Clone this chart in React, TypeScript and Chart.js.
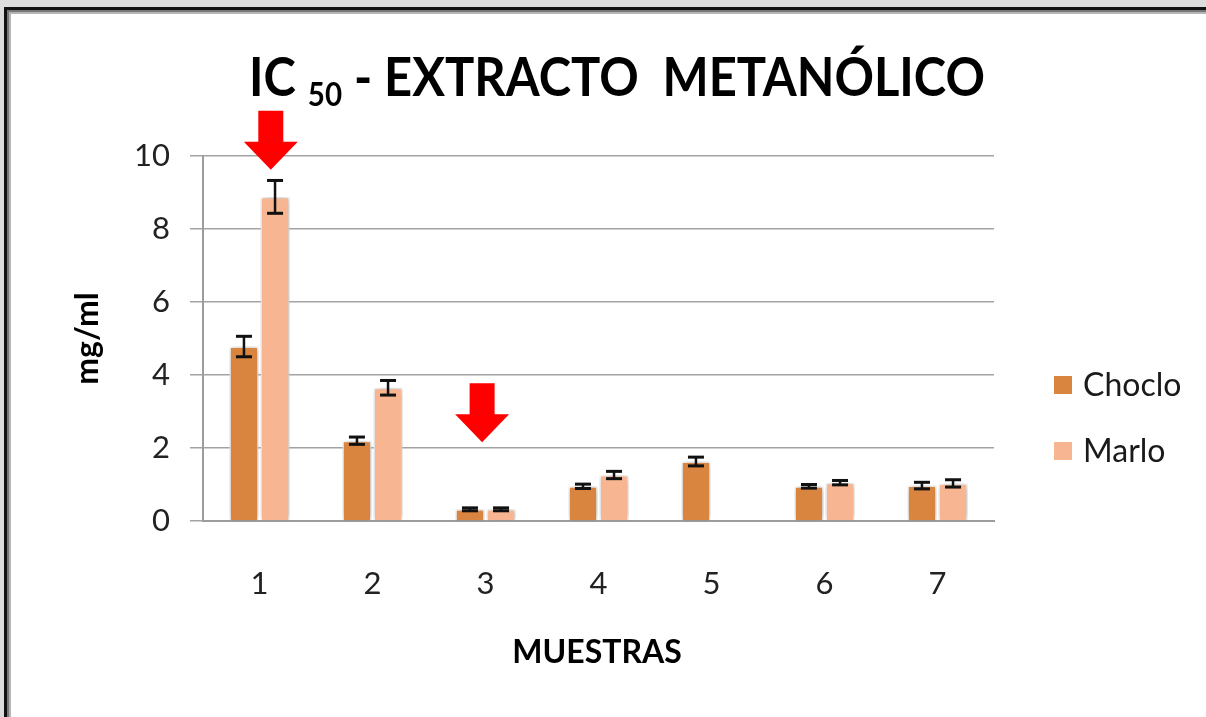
import React, { useEffect, useRef } from "react";
import { Chart, registerables } from "chart.js";

Chart.register(...registerables);

const categories = ["1", "2", "3", "4", "5", "6", "7"];
const seriesNames = ["Choclo", "Marlo"];
const chocloValues = [4.78, 2.2, 0.32, 0.95, 1.63, 0.95, 0.97];
const chocloErrors = [0.28, 0.1, 0.04, 0.06, 0.12, 0.05, 0.09];
const marloValues = [8.88, 3.65, 0.32, 1.26, 0, 1.05, 1.03];
const marloErrors = [0.45, 0.2, 0.04, 0.1, 0, 0.06, 0.1];
const yMin = 0;
const yMax = 10;
const yStep = 2;
// red arrow annotations: category position and value at the arrow tip
const arrowCategoryPos = [0.1, 1.97];
const arrowTipValues = [9.62, 2.16];

const titleMain = "IC";
const titleSub = "50";
const titleRest = " - EXTRACTO  METANÓLICO";
const yTitle = "mg/ml";
const xTitle = "MUESTRAS";

const colors = ["#D9843F", "#F8B591"];
const errors = [chocloErrors, marloErrors];

const overlay = {
  id: "overlay",
  beforeDatasetsDraw(chart: any) {
    const ctx = chart.ctx;
    ctx.save();
    ctx.shadowColor = "rgba(0,0,0,0.35)";
    ctx.shadowBlur = 7;
    ctx.shadowOffsetX = 1;
    ctx.shadowOffsetY = 0;
  },
  afterDatasetsDraw(chart: any) {
    const ctx = chart.ctx;
    ctx.restore();
    const ys = chart.scales.y;
    const xs = chart.scales.x;
    // error bars
    ctx.save();
    ctx.strokeStyle = "#111";
    ctx.fillStyle = "#111";
    chart.data.datasets.forEach((ds: any, i: number) => {
      const meta = chart.getDatasetMeta(i);
      ds.data.forEach((v: number, j: number) => {
        const e = errors[i][j];
        if (!v) return;
        const el = meta.data[j];
        const x = el.x;
        const yt = ys.getPixelForValue(v + e);
        const yb = ys.getPixelForValue(v - e);
        ctx.lineWidth = 2.5;
        ctx.beginPath();
        ctx.moveTo(x, yt);
        ctx.lineTo(x, yb);
        ctx.stroke();
        ctx.fillRect(x - 8, yt - 1.5, 16, 3);
        ctx.fillRect(x - 8, yb - 1.5, 16, 3);
      });
    });
    // arrows
    ctx.fillStyle = "#FF0000";
    arrowCategoryPos.forEach((c, k) => {
      const x = xs.getPixelForValue(c);
      const tip = ys.getPixelForValue(arrowTipValues[k]);
      const headH = 28;
      const shaftH = 31;
      const headW = 27;
      const shaftW = 12.5;
      ctx.beginPath();
      ctx.moveTo(x - shaftW, tip - headH - shaftH);
      ctx.lineTo(x + shaftW, tip - headH - shaftH);
      ctx.lineTo(x + shaftW, tip - headH);
      ctx.lineTo(x + headW, tip - headH);
      ctx.lineTo(x, tip);
      ctx.lineTo(x - headW, tip - headH);
      ctx.lineTo(x - shaftW, tip - headH);
      ctx.closePath();
      ctx.fill();
    });
    ctx.restore();
  },
  afterDraw(chart: any) {
    const ctx = chart.ctx;
    const area = chart.chartArea;
    ctx.save();
    ctx.fillStyle = "#000";
    // title with subscript, condensed to reference width
    const fMain = "bold 53px Lato";
    const fSub = "bold 32px Lato";
    ctx.font = fMain;
    const w1 = ctx.measureText(titleMain + " ").width;
    const w3 = ctx.measureText(titleRest).width;
    ctx.font = fSub;
    const w2 = ctx.measureText(titleSub).width;
    const total = w1 + w2 + w3;
    const targetW = 736;
    const sx = targetW / total;
    const cx = 617;
    const baseline = 96;
    ctx.translate(cx - targetW / 2, baseline);
    ctx.scale(sx, 1);
    ctx.textBaseline = "alphabetic";
    ctx.textAlign = "left";
    ctx.font = fMain;
    ctx.fillText(titleMain, 0, 0);
    ctx.font = fSub;
    ctx.fillText(titleSub, w1, 10);
    ctx.font = fMain;
    ctx.fillText(titleRest, w1 + w2, 0);
    ctx.setTransform(1, 0, 0, 1, 0, 0);

    // y axis title
    ctx.save();
    ctx.translate(88, (area.top + area.bottom) / 2);
    ctx.rotate(-Math.PI / 2);
    ctx.font = "bold 32px Lato";
    ctx.textAlign = "center";
    ctx.textBaseline = "middle";
    ctx.fillText(yTitle, 0, 0);
    ctx.restore();

    // x axis title
    ctx.font = "bold 32px Lato";
    ctx.textAlign = "center";
    ctx.textBaseline = "middle";
    ctx.fillText(xTitle, 597, 653);

    // legend
    ctx.textAlign = "left";
    ctx.textBaseline = "middle";
    ctx.font = "32px Lato";
    const legendCy = [385, 451];
    seriesNames.forEach((name, i) => {
      ctx.fillStyle = colors[i];
      ctx.fillRect(1054, legendCy[i] - 9, 18, 18);
      ctx.fillStyle = "#1a1a1a";
      ctx.fillText(name, 1083, legendCy[i] + 1);
    });
    ctx.restore();
  },
};

export default function App() {
  const ref = useRef<HTMLCanvasElement | null>(null);

  useEffect(() => {
    document.body.style.margin = "0";
    const canvas = ref.current;
    if (!canvas) return;
    const chart = new Chart(canvas, {
      type: "bar",
      data: {
        labels: categories,
        datasets: [
          {
            label: seriesNames[0],
            data: chocloValues,
            backgroundColor: colors[0],
            borderColor: "#ffffff",
            borderWidth: 1.5,
            borderSkipped: "bottom",
            categoryPercentage: 0.55,
            barPercentage: 0.94,
          },
          {
            label: seriesNames[1],
            data: marloValues,
            backgroundColor: colors[1],
            borderColor: "#ffffff",
            borderWidth: 1.5,
            borderSkipped: "bottom",
            categoryPercentage: 0.55,
            barPercentage: 0.94,
          },
        ],
      },
      options: {
        responsive: false,
        animation: false,
        devicePixelRatio: 1,
        layout: { padding: { top: 156, right: 212, left: 0, bottom: 0 } },
        plugins: {
          legend: { display: false },
          title: { display: false },
          tooltip: { enabled: false },
        },
        scales: {
          x: {
            grid: { display: false, drawTicks: false },
            border: { display: true, color: "#9c9c9c", width: 2 },
            ticks: {
              color: "#222",
              font: { family: "Lato", size: 31 },
              padding: 44,
            },
            afterFit: (s: any) => {
              s.height = 196;
            },
          },
          y: {
            min: yMin,
            max: yMax,
            ticks: {
              stepSize: yStep,
              color: "#222",
              font: { family: "Lato", size: 31 },
              padding: 20,
            },
            grid: {
              color: "#a3a3a3",
              lineWidth: 1.5,
              tickLength: 13,
            },
            border: { display: true, color: "#9c9c9c", width: 2 },
            afterFit: (s: any) => {
              s.width = 203;
            },
          },
        },
      },
      plugins: [overlay],
    });
    return () => chart.destroy();
  }, []);

  return (
    <div
      style={{
        position: "relative",
        width: 1206,
        height: 717,
        background: "#dcdcdc",
        overflow: "hidden",
      }}
    >
      <div
        style={{
          position: "absolute",
          left: 4,
          top: 7,
          width: 1300,
          height: 800,
          background: "#ffffff",
          borderTop: "3px solid #111",
          borderLeft: "3px solid #111",
          boxShadow: "inset 2px 2px 0 #777, inset 4px 4px 0 #b5b5b5",
        }}
      />
      <canvas
        ref={ref}
        width={1206}
        height={717}
        style={{ position: "absolute", left: 0, top: 0, width: 1206, height: 717 }}
      />
    </div>
  );
}
